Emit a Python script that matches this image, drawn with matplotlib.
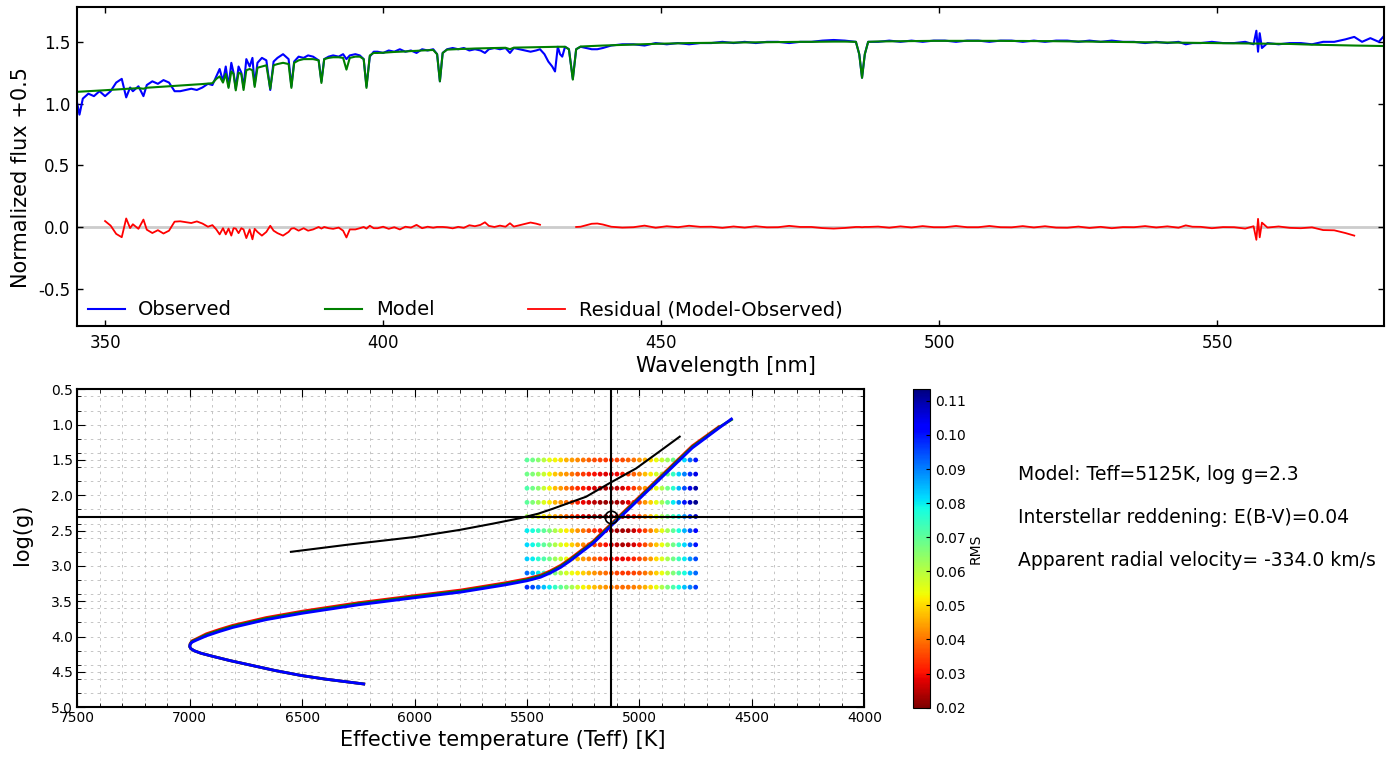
import numpy as np
import matplotlib
matplotlib.use("Agg")
import matplotlib.pyplot as plt
from matplotlib.ticker import MultipleLocator

plt.rcParams['axes.unicode_minus'] = False
plt.rcParams['font.family'] = 'DejaVu Sans'

# spectrum: wavelength [nm], observed and model flux (+0.5)
wave = [345.0, 345.4, 346.0, 347.0, 348.0, 349.0, 350.0, 351.0, 352.0, 353.0, 353.8, 354.5, 355.0, 356.0,
        356.9, 357.5, 358.5, 359.5, 360.5, 361.5, 362.5, 363.5, 364.5, 365.5, 366.5, 367.5, 368.5, 369.3,
        370.0, 370.6, 371.2, 371.7, 372.2, 372.7, 373.1, 373.5, 374.0, 374.5, 374.9, 375.4, 376.0, 376.5,
        376.9, 377.4, 378.2, 379.0, 379.7, 380.3, 381.0, 382.0, 383.0, 383.5, 384.0, 384.8, 385.7, 386.5,
        387.4, 388.4, 388.9, 389.4, 390.2, 391.0, 392.0, 392.8, 393.4, 394.0, 395.0, 395.8, 396.5, 397.0,
        397.6, 398.3, 399.0, 400.0, 401.0, 402.0, 403.0, 404.0, 405.0, 406.0, 407.0, 408.0, 409.0, 409.7,
        410.2, 410.7, 411.5, 412.5, 413.5, 414.5, 415.5, 416.5, 417.5, 418.3, 419.0, 420.0, 421.0, 422.0,
        422.8, 423.5, 424.5, 425.5, 426.5, 427.5, 428.2, 429.0, 429.7, 430.4, 430.9, 431.4, 431.8, 432.2,
        432.7, 433.4, 434.1, 434.7, 435.5, 436.5, 437.5, 438.5, 439.5, 441, 443, 445, 447, 449, 451, 453,
        455, 457, 459, 461, 463, 465, 467, 469, 471, 473, 475, 477, 479, 481, 483, 485, 485.6, 486.1,
        486.6, 487.2, 489, 491, 493, 495, 497, 499, 501, 503, 505, 507, 509, 511, 513, 515, 517, 519, 521,
        523, 525, 527, 529, 531, 533, 535, 537, 539, 541, 543, 544.3, 545.5, 547, 549, 551, 553, 555,
        556.5, 557.0, 557.3, 557.6, 558.0, 559, 561, 563, 565, 567, 569, 571, 573, 574.6, 576, 577.5, 579, 580]
observed = [1.00, 0.91, 1.04, 1.08, 1.06, 1.10, 1.06, 1.10, 1.17, 1.20, 1.05, 1.13, 1.10, 1.14,
            1.06, 1.15, 1.18, 1.16, 1.19, 1.17, 1.10, 1.10, 1.11, 1.12, 1.11, 1.13, 1.16, 1.15,
            1.22, 1.28, 1.18, 1.30, 1.14, 1.33, 1.25, 1.12, 1.30, 1.25, 1.13, 1.36, 1.30, 1.37,
            1.15, 1.33, 1.37, 1.35, 1.11, 1.34, 1.37, 1.40, 1.36, 1.14, 1.34, 1.38, 1.37, 1.39,
            1.38, 1.35, 1.18, 1.36, 1.38, 1.39, 1.38, 1.40, 1.36, 1.39, 1.40, 1.39, 1.36, 1.14,
            1.38, 1.42, 1.42, 1.41, 1.43, 1.42, 1.44, 1.42, 1.43, 1.41, 1.44, 1.43, 1.44, 1.40,
            1.18, 1.41, 1.44, 1.45, 1.44, 1.45, 1.43, 1.44, 1.43, 1.41, 1.44, 1.45, 1.44, 1.45,
            1.41, 1.45, 1.44, 1.43, 1.42, 1.43, 1.44, 1.40, 1.34, 1.30, 1.26, 1.46, 1.40, 1.38,
            1.46, 1.44, 1.20, 1.44, 1.46, 1.45, 1.44, 1.44, 1.45, 1.47, 1.48, 1.48, 1.47, 1.49, 1.48, 1.49,
            1.48, 1.49, 1.49, 1.50, 1.49, 1.50, 1.49, 1.50, 1.50, 1.49, 1.50, 1.50, 1.51, 1.515, 1.51, 1.50, 1.40, 1.21,
            1.40, 1.50, 1.50, 1.51, 1.50, 1.51, 1.50, 1.51, 1.51, 1.50, 1.51, 1.51, 1.50, 1.51, 1.51, 1.50, 1.51, 1.50, 1.51,
            1.51, 1.50, 1.51, 1.50, 1.51, 1.50, 1.50, 1.49, 1.50, 1.49, 1.50, 1.48, 1.49, 1.49, 1.50, 1.49, 1.49, 1.50,
            1.48, 1.59, 1.42, 1.57, 1.45, 1.49, 1.48, 1.49, 1.49, 1.48, 1.50, 1.50, 1.52, 1.54, 1.50, 1.53, 1.50, 1.55]
model = [1.095, 1.096, 1.097, 1.100, 1.102, 1.105, 1.108, 1.111, 1.114, 1.117, 1.119, 1.121, 1.122, 1.125,
         1.120, 1.128, 1.131, 1.134, 1.137, 1.140, 1.143, 1.146, 1.149, 1.152, 1.155, 1.158, 1.162, 1.165,
         1.200, 1.220, 1.170, 1.240, 1.127, 1.260, 1.240, 1.107, 1.250, 1.240, 1.110, 1.270, 1.280, 1.270,
         1.135, 1.290, 1.300, 1.310, 1.120, 1.310, 1.320, 1.330, 1.320, 1.127, 1.330, 1.350, 1.360, 1.360,
         1.360, 1.350, 1.167, 1.360, 1.370, 1.375, 1.375, 1.370, 1.275, 1.370, 1.380, 1.380, 1.360, 1.127,
         1.390, 1.410, 1.410, 1.412, 1.415, 1.418, 1.420, 1.422, 1.425, 1.427, 1.430, 1.432, 1.434, 1.400,
         1.180, 1.410, 1.437, 1.439, 1.441, 1.443, 1.444, 1.446, 1.447, 1.448, 1.449, 1.450, 1.451, 1.452,
         1.440, 1.453, 1.454, 1.455, 1.456, 1.457, 1.458, 1.459, 1.460, 1.460, 1.460, 1.460, 1.460, 1.460,
         1.460, 1.440, 1.194, 1.440, 1.462, 1.464, 1.466, 1.468, 1.470, 1.472, 1.475, 1.478, 1.481, 1.484, 1.486, 1.488,
         1.490, 1.491, 1.492, 1.493, 1.494, 1.495, 1.496, 1.497, 1.498, 1.499, 1.500, 1.500, 1.501, 1.502, 1.502, 1.500, 1.400, 1.208,
         1.400, 1.500, 1.503, 1.504, 1.505, 1.506, 1.507, 1.508, 1.508, 1.508, 1.508, 1.508, 1.508, 1.508, 1.507, 1.507, 1.506, 1.506, 1.505,
         1.504, 1.503, 1.502, 1.501, 1.500, 1.499, 1.498, 1.497, 1.496, 1.495, 1.494, 1.493, 1.492, 1.491, 1.490, 1.489, 1.488, 1.487,
         1.486, 1.486, 1.486, 1.486, 1.485, 1.485, 1.484, 1.483, 1.480, 1.477, 1.475, 1.473, 1.471, 1.470, 1.469, 1.468, 1.467, 1.466]

# residual is only shown over these wavelength windows
resid_windows = [(350.0, 428.3), (434.6, 574.6)]

# RMS grid
grid_teff = [5500 - 25 * i for i in range(31)]
grid_logg = [1.5, 1.7, 1.9, 2.1, 2.3, 2.5, 2.7, 2.9, 3.1, 3.3]
rms = [
    [0.070, 0.068, 0.065, 0.060, 0.055, 0.053, 0.050, 0.046, 0.044, 0.042, 0.040, 0.038, 0.036, 0.035, 0.034, 0.034,
     0.035, 0.036, 0.038, 0.040, 0.043, 0.046, 0.050, 0.054, 0.058, 0.063, 0.068, 0.075, 0.082, 0.092, 0.100],
    [0.068, 0.066, 0.063, 0.058, 0.053, 0.048, 0.045, 0.043, 0.040, 0.037, 0.034, 0.032, 0.030, 0.029, 0.028, 0.028,
     0.029, 0.031, 0.034, 0.038, 0.042, 0.047, 0.052, 0.057, 0.062, 0.068, 0.075, 0.083, 0.090, 0.098, 0.105],
    [0.072, 0.068, 0.065, 0.058, 0.053, 0.047, 0.044, 0.040, 0.036, 0.033, 0.031, 0.029, 0.027, 0.025, 0.024, 0.024,
     0.025, 0.027, 0.030, 0.034, 0.039, 0.044, 0.050, 0.055, 0.061, 0.068, 0.076, 0.085, 0.095, 0.105, 0.110],
    [0.070, 0.066, 0.062, 0.056, 0.052, 0.046, 0.043, 0.039, 0.035, 0.032, 0.029, 0.027, 0.025, 0.023, 0.022, 0.022,
     0.023, 0.025, 0.028, 0.032, 0.037, 0.043, 0.049, 0.055, 0.062, 0.070, 0.080, 0.090, 0.100, 0.108, 0.112],
    [0.062, 0.058, 0.055, 0.052, 0.049, 0.045, 0.042, 0.038, 0.034, 0.031, 0.028, 0.026, 0.024, 0.022, 0.021, 0.021,
     0.022, 0.024, 0.027, 0.031, 0.036, 0.042, 0.048, 0.055, 0.062, 0.068, 0.074, 0.080, 0.088, 0.098, 0.108],
    [0.080, 0.078, 0.074, 0.070, 0.066, 0.061, 0.056, 0.052, 0.047, 0.043, 0.040, 0.036, 0.033, 0.030, 0.027, 0.024,
     0.023, 0.023, 0.024, 0.026, 0.030, 0.035, 0.041, 0.048, 0.055, 0.062, 0.070, 0.078, 0.085, 0.095, 0.103],
    [0.082, 0.079, 0.075, 0.070, 0.066, 0.061, 0.056, 0.053, 0.049, 0.045, 0.042, 0.039, 0.036, 0.033, 0.030, 0.027,
     0.025, 0.024, 0.025, 0.027, 0.031, 0.036, 0.042, 0.048, 0.054, 0.061, 0.068, 0.075, 0.082, 0.092, 0.100],
    [0.083, 0.080, 0.076, 0.072, 0.068, 0.063, 0.058, 0.054, 0.050, 0.047, 0.044, 0.041, 0.038, 0.035, 0.032, 0.030,
     0.029, 0.029, 0.030, 0.032, 0.035, 0.039, 0.044, 0.050, 0.056, 0.062, 0.068, 0.074, 0.080, 0.088, 0.095],
    [0.092, 0.085, 0.080, 0.075, 0.070, 0.066, 0.061, 0.057, 0.054, 0.052, 0.049, 0.046, 0.043, 0.041, 0.039, 0.037,
     0.035, 0.034, 0.034, 0.035, 0.037, 0.040, 0.044, 0.049, 0.054, 0.060, 0.066, 0.072, 0.078, 0.085, 0.092],
    [0.098, 0.095, 0.090, 0.084, 0.080, 0.075, 0.070, 0.066, 0.062, 0.057, 0.053, 0.050, 0.047, 0.045, 0.043, 0.041,
     0.040, 0.039, 0.040, 0.041, 0.043, 0.046, 0.050, 0.055, 0.061, 0.067, 0.072, 0.078, 0.084, 0.090, 0.096],
]

# isochrones (Teff, logg)
iso_teff = [6226, 6400, 6504, 6620, 6734, 6820, 6896, 6950, 6980, 6995, 7000, 6998, 6990, 6970, 6926, 6870,
            6808, 6660, 6500, 6250, 6000, 5794, 5600, 5500, 5440, 5397, 5350, 5309, 5206, 5125, 5059, 4912,
            4765, 4647, 4591]
iso_blue = [4.67, 4.60, 4.55, 4.48, 4.40, 4.34, 4.28, 4.235, 4.20, 4.17, 4.14, 4.11, 4.08, 4.05, 3.99, 3.93,
            3.87, 3.76, 3.67, 3.55, 3.45, 3.37, 3.27, 3.21, 3.16, 3.10, 3.02, 2.93, 2.68, 2.43, 2.23, 1.78,
            1.33, 1.05, 0.92]
iso_green = [4.67, 4.60, 4.55, 4.48, 4.40, 4.34, 4.28, 4.235, 4.20, 4.17, 4.14, 4.105, 4.07, 4.04, 3.975, 3.915,
             3.855, 3.745, 3.655, 3.535, 3.435, 3.355, 3.255, 3.195, 3.145, 3.085, 3.005, 2.915, 2.665, 2.415,
             2.215, 1.765, 1.315, 1.04, 0.93]
iso_red = [4.67, 4.60, 4.55, 4.48, 4.40, 4.34, 4.28, 4.235, 4.20, 4.17, 4.14, 4.10, 4.06, 4.03, 3.96, 3.90,
           3.84, 3.73, 3.64, 3.52, 3.42, 3.34, 3.24, 3.18, 3.13, 3.07, 2.99, 2.90, 2.65, 2.40, 2.20, 1.75,
           1.30, 1.03]
track_teff = [6550, 6300, 6000, 5800, 5650, 5533, 5450, 5385, 5237, 5134, 5015, 4911, 4821]
track_logg = [2.80, 2.70, 2.59, 2.49, 2.40, 2.325, 2.26, 2.19, 2.02, 1.83, 1.62, 1.38, 1.17]

best_teff = 5125
best_logg = 2.3
ebv = 0.04
rv = -334.0

fig = plt.figure(figsize=(13.97, 7.58), dpi=100)

# ---- spectrum panel
ax1 = fig.add_axes([0.0553, 0.5703, 0.9356, 0.4201])
wave_a = np.array(wave)
obs_a = np.array(observed)
mod_a = np.array(model)
resid = mod_a - obs_a
show = np.zeros(len(wave_a), dtype=bool)
for lo, hi in resid_windows:
    show |= (wave_a >= lo) & (wave_a <= hi)
resid[~show] = np.nan

ax1.axhline(0, color='#cccccc', lw=2, zorder=1)
ax1.plot(wave_a, obs_a, color='#0000ff', lw=1.5, label='Observed')
ax1.plot(wave_a, mod_a, color='#008000', lw=1.5, label='Model')
ax1.plot(wave_a, resid, color='#ff0000', lw=1.3, label='Residual (Model-Observed)')
ax1.set_xlim(345, 580)
ax1.set_ylim(-0.8, 1.78)
ax1.xaxis.set_major_locator(MultipleLocator(50))
ax1.yaxis.set_major_locator(MultipleLocator(0.5))
ax1.tick_params(direction='in', top=True, right=True, labelsize=12, length=4, width=1)
ax1.tick_params(axis='x', pad=6)
ax1.tick_params(axis='y', pad=5)
for s in ax1.spines.values():
    s.set_linewidth(1.5)
ax1.set_xlabel('Wavelength [nm]', fontsize=15)
ax1.set_ylabel('Normalized flux +0.5', fontsize=15)
ax1.xaxis.set_label_coords(0.4963, -0.095)
ax1.yaxis.set_label_coords(-0.0354, 0.4655)
ax1.legend(loc='lower left', bbox_to_anchor=(0.008, 0.02), ncol=3, frameon=False, fontsize=14,
           handlelength=1.9, handletextpad=0.7, columnspacing=4.8, borderaxespad=0, borderpad=0)

# ---- HR diagram panel
ax2 = fig.add_axes([0.0553, 0.0669, 0.5634, 0.4195])
ax2.plot(track_teff, track_logg, color='black', lw=1.5, zorder=3)
ax2.plot(iso_teff[:len(iso_red)], iso_red, color='#ff0000', lw=2, zorder=3)
ax2.plot(iso_teff, iso_green, color='#008000', lw=2, zorder=3)
ax2.plot(iso_teff, iso_blue, color='#0000ff', lw=2, zorder=3)

gt, gl = np.meshgrid(grid_teff, grid_logg)
sc = ax2.scatter(gt.ravel(), gl.ravel(), c=np.array(rms).ravel(), cmap='jet_r', vmin=0.02, vmax=0.1134,
                 s=12, linewidths=0, zorder=2)

ax2.axvline(best_teff, color='black', lw=1.5, zorder=4)
ax2.axhline(best_logg, color='black', lw=1.5, zorder=4)
ax2.plot(best_teff, best_logg, 'o', mfc='none', mec='black', mew=1.2, ms=9, zorder=5)

ax2.set_xlim(7500, 4000)
ax2.set_ylim(5.0, 0.5)
ax2.xaxis.set_major_locator(MultipleLocator(500))
ax2.xaxis.set_minor_locator(MultipleLocator(100))
ax2.yaxis.set_major_locator(MultipleLocator(0.5))
ax2.yaxis.set_minor_locator(MultipleLocator(0.2))
ax2.grid(which='both', color='#bbbbbb', lw=0.6, linestyle=(0, (3, 5)), zorder=0)
ax2.tick_params(which='both', direction='in', top=True, right=True, labelsize=10)
ax2.tick_params(which='major', length=6, pad=3)
ax2.tick_params(which='minor', length=3)
for s in ax2.spines.values():
    s.set_linewidth(1.5)
ax2.set_xlabel('Effective temperature (Teff) [K]', fontsize=15)
ax2.set_ylabel('log(g)', fontsize=15)
ax2.xaxis.set_label_coords(0.54, -0.071)
ax2.yaxis.set_label_coords(-0.0576, 0.545)

cax = fig.add_axes([0.6538, 0.0664, 0.012, 0.42])
cb = fig.colorbar(sc, cax=cax)
cb.set_ticks([0.02, 0.03, 0.04, 0.05, 0.06, 0.07, 0.08, 0.09, 0.10, 0.11])
cb.ax.set_yticklabels(['%.2f' % t for t in cb.get_ticks()])
cb.ax.tick_params(labelsize=10, direction='in', length=3)
cb.set_label('RMS', fontsize=10, labelpad=2)

fig.text(0.7285, 0.3734, 'Model: Teff=%dK, log g=%.1f' % (best_teff, best_logg), fontsize=13.5, va='center')
fig.text(0.7285, 0.3179, 'Interstellar reddening: E(B-V)=%.2f' % ebv, fontsize=13.5, va='center')
fig.text(0.7285, 0.2612, 'Apparent radial velocity= %.1f km/s' % rv, fontsize=13.5, va='center')

fig.savefig('out.png', dpi=100)
